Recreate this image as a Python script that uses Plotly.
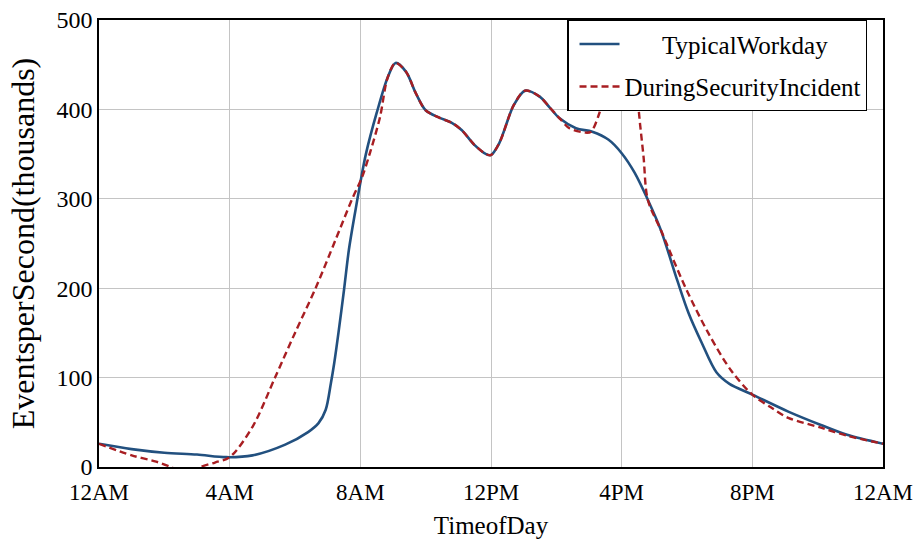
import plotly.graph_objects as go

# ---- data (hours since midnight, events per second in thousands) ----
typical_hours = [0, 1, 2, 3, 3.9, 4.7, 5.7, 6.4, 6.72, 6.94, 7.1, 7.2, 7.33, 7.5, 7.65,
                 7.85, 8.0, 8.17, 8.5, 8.84, 9.08, 9.4, 9.7, 10.0, 10.4, 10.8, 11.1, 11.5,
                 11.85, 12.0, 12.25, 12.7, 13.05, 13.5, 13.8, 14.1, 14.6, 15.1, 15.6, 16.0,
                 16.4, 16.8, 17.2, 17.7, 18.05, 18.45, 18.9, 19.3, 20.0, 21.1, 22.1, 22.9, 24]
typical_vals = [26, 20, 16, 14, 11, 13, 25, 39, 49, 64, 94, 116, 150, 198, 243,
                287, 318, 350, 396, 436, 452, 442, 418, 399, 391, 385, 377, 360,
                350, 349, 362, 405, 421, 414, 402, 390, 379, 375, 366, 351,
                329, 299, 265, 209, 172, 139, 106, 93, 81, 62, 47, 36, 26]

incident_hours = [0, 1, 1.75, 2.2, 2.65, 3.1, 3.55, 4.0, 4.7, 5.4, 6.0, 6.63, 7.24, 7.74,
                  8.05, 8.3, 8.6, 8.84, 9.08, 9.4, 9.7, 10.0, 10.4, 10.8, 11.1, 11.5, 11.85,
                  12.0, 12.25, 12.7, 13.05, 13.5, 13.8, 14.1, 14.4, 14.9, 15.06, 15.3, 15.6,
                  15.9, 16.15, 16.35, 16.53, 16.67, 16.8, 17.2, 17.95, 18.65, 19.35, 20.0,
                  20.6, 21.1, 22.1, 22.9, 24]
incident_vals = [26, 13, 6, 0, -8, 0, 5, 11, 45, 101, 150, 200, 254, 299,
                 324, 352, 391, 436, 452, 442, 418, 399, 391, 385, 377, 360, 350,
                 349, 362, 405, 421, 414, 402, 390, 379, 374, 375, 394, 440,
                 500, 520, 480, 396, 347, 299, 265, 201, 150, 108, 81,
                 66, 55, 44, 35, 26]

tick_hours = [0, 4, 8, 12, 16, 20, 24]
tick_labels = ["12AM", "4AM", "8AM", "12PM", "4PM", "8PM", "12AM"]
y_ticks = [0, 100, 200, 300, 400, 500]

series_names = ["\u00a0" * 6 + "TypicalWorkday", "DuringSecurityIncident"]

FONT = "Liberation Serif, Times New Roman, serif"

fig = go.Figure()
fig.add_trace(go.Scatter(
    x=typical_hours, y=typical_vals, mode="lines", name=series_names[0],
    legendgroup="a",
    line=dict(color="#22507f", width=2.6, shape="spline", smoothing=0.9),
))
fig.add_trace(go.Scatter(
    x=incident_hours, y=incident_vals, mode="lines", name=series_names[1],
    legendgroup="b",
    line=dict(color="#a81e22", width=2.4, dash="7px,4px", shape="spline", smoothing=0.9),
))

fig.update_layout(
    width=913, height=541,
    margin=dict(l=99, r=30, t=20, b=74),
    paper_bgcolor="white", plot_bgcolor="white",
    font=dict(family=FONT, size=24, color="black"),
    legend=dict(
        x=0.98, y=1.0, xanchor="right", yanchor="top",
        bgcolor="white", bordercolor="black", borderwidth=1.2,
        font=dict(family=FONT, size=25, color="black"),
        itemwidth=40, tracegroupgap=7, indentation=6,
    ),
    xaxis=dict(
        range=[0, 24], tickvals=tick_hours, ticktext=tick_labels,
        automargin=False,
        showgrid=True, gridcolor="#c4c4c4", gridwidth=1.3,
        showline=True, linecolor="black", linewidth=1.6, mirror=True,
        zeroline=False, ticks="", ticklabelstandoff=4, ticklabeloverflow="allow",
        tickfont=dict(family=FONT, size=23),
        title=dict(text="TimeofDay", font=dict(family=FONT, size=25), standoff=12),
    ),
    yaxis=dict(
        range=[0, 500], tickvals=y_ticks,
        automargin=False,
        showgrid=True, gridcolor="#c4c4c4", gridwidth=1.3,
        showline=True, linecolor="black", linewidth=1.6, mirror=True,
        zeroline=False, ticks="",
        tickfont=dict(family=FONT, size=24),
        title=dict(text="EventsperSecond(thousands)", font=dict(family=FONT, size=32), standoff=12),
    ),
)

fig.write_html("out.html")
